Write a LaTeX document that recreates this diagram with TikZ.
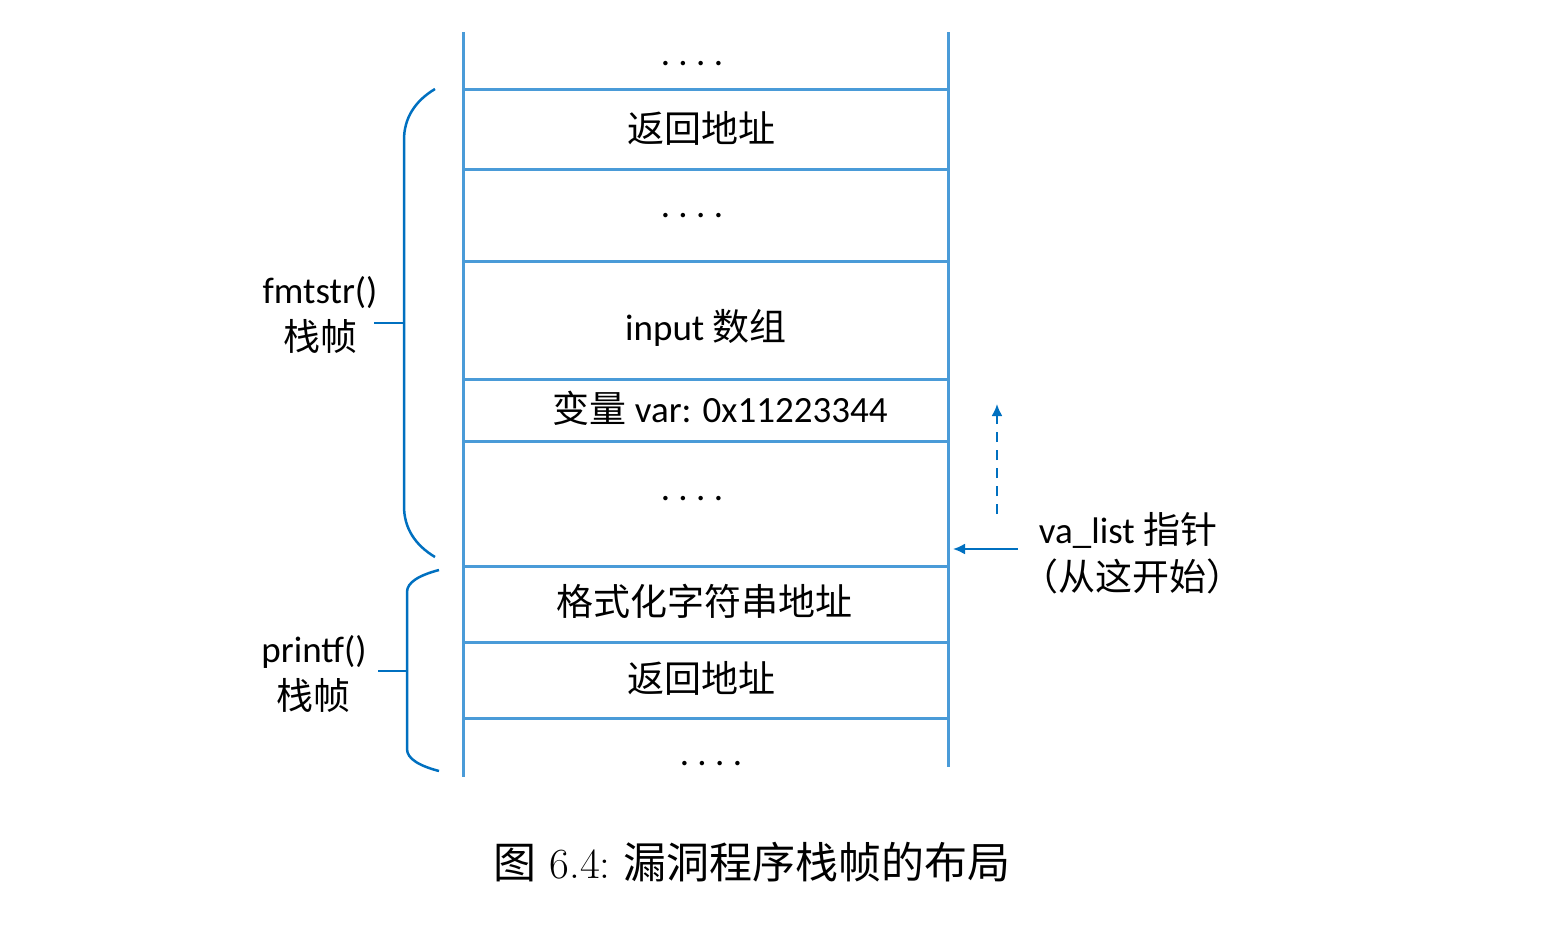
\documentclass[tikz,border=0pt]{standalone}
\usepackage{fontspec}
\setsansfont{Carlito}
\newfontfamily\cjk{Noto Sans CJK SC}
\usetikzlibrary{arrows.meta}
\definecolor{stackblue}{RGB}{74,155,216}
\definecolor{darkblue}{RGB}{0,112,192}
\begin{document}
\begin{tikzpicture}[x=1pt,y=-1pt,
  stackline/.style={stackblue,line width=3pt},
  bracestyle/.style={darkblue,line width=2.5pt},
  lbl/.style={anchor=base,inner sep=0pt,font=\sffamily\fontsize{37}{40}\selectfont},
  ptr/.style={darkblue,line width=2pt,-{Latex[length=12pt,width=11pt]}},
  dashptr/.style={ptr,dash pattern=on 10pt off 8pt}]
\useasboundingbox (0,0) rectangle (1552,930);
% stack frame outline
\coordinate (LT) at (463,32);
\coordinate (LB) at (463,777);
\coordinate (RT) at (948,32);
\coordinate (RB) at (948,767);
\draw[stackline] (LT) -- (LB);
\draw[stackline] (RT) -- (RB);
\foreach \yy in {89,169,261,379,441,566,642,718}
  \draw[stackline] (463,\yy) -- (948,\yy);
% cell texts
\node[lbl] (d1) at (692,65) {.\ .\ .\ .};
\node[lbl] (r1) at (701,142) {\cjk 返回地址};
\node[lbl] (d2) at (692,217) {.\ .\ .\ .};
\node[lbl] (in) at (706,340) {input {\cjk 数组}};
\node[lbl] (var) at (720,422) {{\cjk 变量} var: 0x11223344};
\node[lbl] (d3) at (692,500) {.\ .\ .\ .};
\node[lbl] (fmt) at (704,615) {\cjk 格式化字符串地址};
\node[lbl] (r2) at (701,692) {\cjk 返回地址};
\node[lbl] (d4) at (711,765) {.\ .\ .\ .};
% braces
\draw[bracestyle] (435,89) .. controls (415,101) and (404,118) .. (404,140)
  -- (404,506) .. controls (404,528) and (415,545) .. (435,557);
\draw[bracestyle] (374,323) -- (404,323);
\draw[bracestyle] (439,570) .. controls (420,575) and (407,582) .. (407,592)
  -- (407,749) .. controls (407,759) and (420,766) .. (439,771);
\draw[bracestyle] (378,671) -- (407,671);
\node[lbl] (f1) at (320,303) {fmtstr()};
\node[lbl] (f2) at (320,350) {\cjk 栈帧};
\node[lbl] (p1) at (314,662) {printf()};
\node[lbl] (p2) at (313,709) {\cjk 栈帧};
% pointer
\coordinate (as) at (1018,549);
\coordinate (ae) at (953,549);
\draw[ptr] (as) -- (ae);
\coordinate (ds) at (997,514);
\coordinate (de) at (997,404);
\draw[dashptr] (ds) -- (de);
\node[lbl] (va1) at (1128,543) {va\_list {\cjk 指针}};
\node[lbl] (va2) at (1132,590) {\cjk （从这开始）};
% caption
\node[anchor=base,inner sep=0pt,font=\rmfamily\fontsize{43}{46}\selectfont] (cap) at (752,878)
  {{\cjk 图}\ 6.4:\ {\cjk 漏洞程序栈帧的布局}};
\end{tikzpicture}
\end{document}
